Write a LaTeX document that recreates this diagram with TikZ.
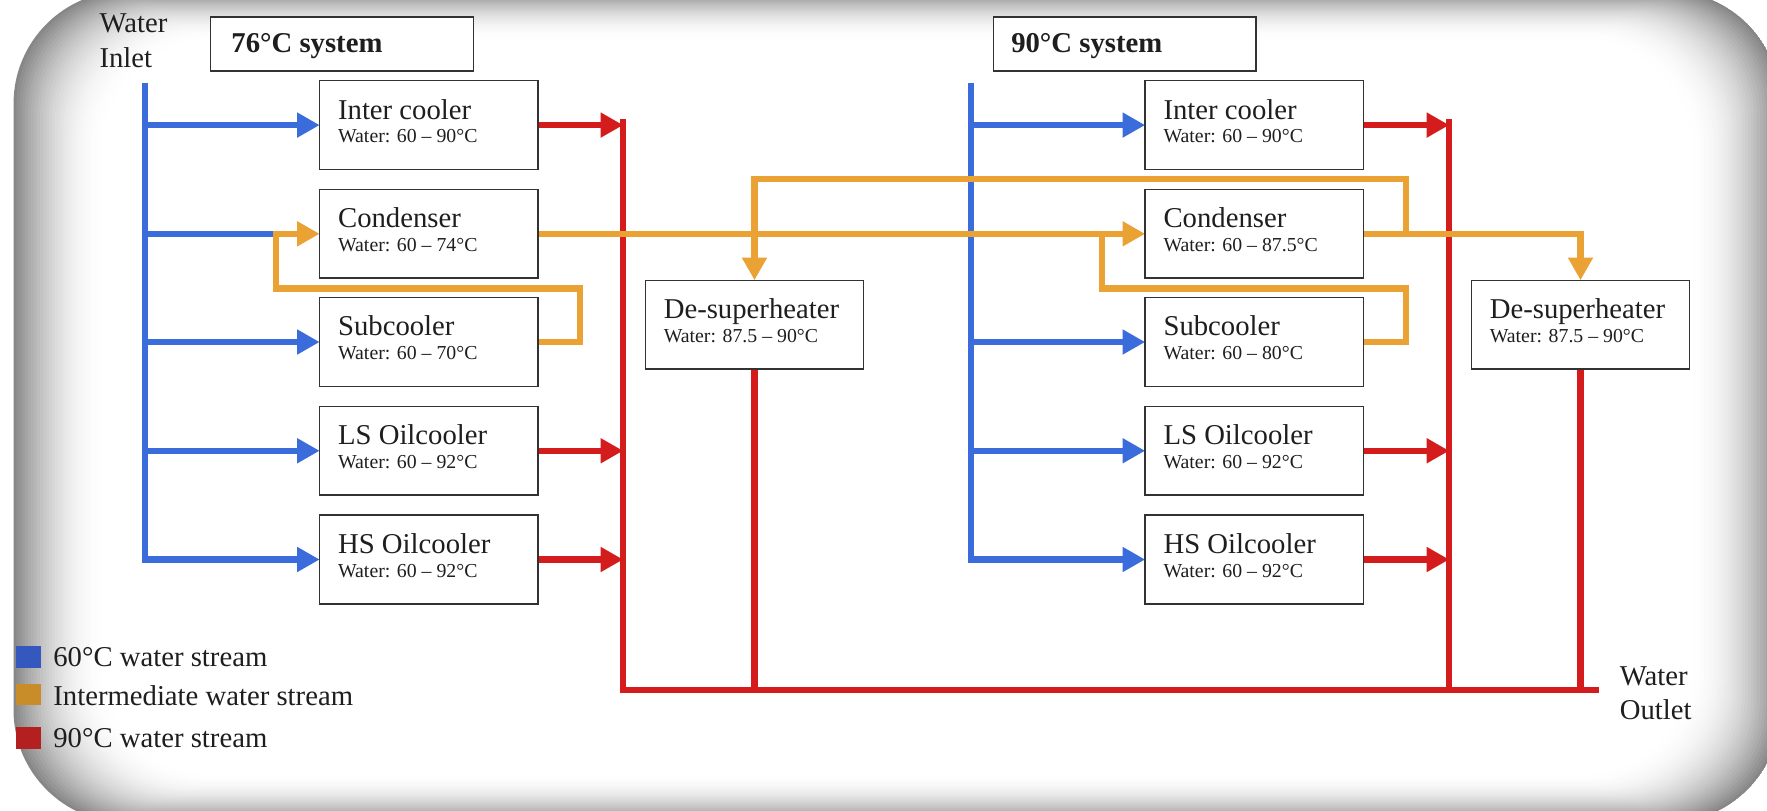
\documentclass[tikz,border=0pt]{standalone}
\usepackage{fontspec}
\setmainfont{Liberation Serif}
\usetikzlibrary{arrows.meta}
\definecolor{bl}{RGB}{59,108,220}
\definecolor{rd}{RGB}{212,28,28}
\definecolor{og}{RGB}{234,162,52}
\definecolor{lgbl}{RGB}{52,88,190}
\definecolor{lgog}{RGB}{200,140,40}
\definecolor{lgrd}{RGB}{180,32,32}
\definecolor{txt}{RGB}{30,30,30}
\definecolor{edge}{RGB}{50,50,50}
\newcommand\hxbox[5]{%
  \node[ubox] (#1) at (#2,#3) {};
  \node[ttl, anchor=base west] (#1t) at ([shift={(16,34)}]#1.north west) {#4};
  \node[sub, anchor=base west] (#1s) at ([shift={(16,55)}]#1.north west) {#5};
}
\begin{document}
\begin{tikzpicture}[x=0.02cm,y=-0.02cm,
  pipe/.style={line width=3.1pt},
  bpipe/.style={pipe,draw=bl},
  rpipe/.style={pipe,draw=rd},
  opipe/.style={pipe,draw=og},
  tip/.style={-{Triangle[length=0.4cm,width=0.42cm]}},
  ubox/.style={fill=white,minimum width=3.86cm,minimum height=1.56cm,inner sep=0pt},
  sbox/.style={draw=edge,fill=white,line width=0.7pt,minimum width=4.66cm,minimum height=0.96cm,inner sep=0pt},
  ttl/.style={font=\fontsize{14.5}{16}\selectfont,text=txt,inner sep=0pt},
  sub/.style={font=\fontsize{10}{11}\selectfont,text=txt,inner sep=0pt},
  leg/.style={font=\fontsize{14.5}{16}\selectfont,text=txt,inner sep=0pt},
]
\useasboundingbox (0,0) rectangle (1568,719);
% background frame
\fill[white] (0,0) rectangle (1568,719);
\begin{scope}
  \clip[rounded corners=2cm] (12,-8) rectangle (1580,730);
  \foreach \i in {0,...,30}{
    \pgfmathsetmacro\c{47*(1-\i/31)^2}
    \fill[black!\c!white, rounded corners=2cm] ({12+2.6*\i},{-8+1.4*\i}) rectangle ({1580-2.6*\i},{730-1.4*\i});
  }
  \fill[white, rounded corners=2cm] ({12+2.6*31},{-8+1.4*31}) rectangle ({1580-2.6*31},{730-1.4*31});
\end{scope}

% boxes (positions)
\hxbox{ic1}{380.5}{111}{Inter cooler}{Water: 60 -- 90°C}
\hxbox{cd1}{380.5}{207.5}{Condenser}{Water: 60 -- 74°C}
\hxbox{sc1}{380.5}{303.5}{Subcooler}{Water: 60 -- 70°C}
\hxbox{ls1}{380.5}{400}{LS Oilcooler}{Water: 60 -- 92°C}
\hxbox{hs1}{380.5}{496.5}{HS Oilcooler}{Water: 60 -- 92°C}
\hxbox{ds1}{669.5}{288}{De-superheater}{Water: 87.5 -- 90°C}
\hxbox{ic2}{1113}{111}{Inter cooler}{Water: 60 -- 90°C}
\hxbox{cd2}{1113}{207.5}{Condenser}{Water: 60 -- 87.5°C}
\hxbox{sc2}{1113}{303.5}{Subcooler}{Water: 60 -- 80°C}
\hxbox{ls2}{1113}{400}{LS Oilcooler}{Water: 60 -- 92°C}
\hxbox{hs2}{1113}{496.5}{HS Oilcooler}{Water: 60 -- 92°C}
\hxbox{ds2}{1402.5}{288}{De-superheater}{Water: 87.5 -- 90°C}

% coordinates
\coordinate (tin1) at (129,74);
\coordinate (tin2) at (862,74);
\coordinate (c1top) at (553,106);
\coordinate (c1bot) at (553,612);
\coordinate (c2top) at (1286,106);
\coordinate (outend) at (1419,612);
\coordinate (o1a) at (515,303.5);
\coordinate (o1b) at (515,256);
\coordinate (o1c) at (245,256);
\coordinate (j1) at (245,207.5);
\coordinate (o2a) at (1248,303.5);
\coordinate (o2b) at (1248,256);
\coordinate (o2c) at (978,256);
\coordinate (o2d) at (978,207.5);
\coordinate (o3a) at (1248,207.5);
\coordinate (o3b) at (1248,159);

% blue 60C streams
\draw[bpipe,tip] (tin1) -- (tin1 |- hs1.west) -- (hs1.west);
\draw[bpipe,tip] (tin1 |- ic1.west) -- (ic1.west);
\draw[bpipe] (tin1 |- cd1.west) -- (j1);
\draw[bpipe,tip] (tin1 |- sc1.west) -- (sc1.west);
\draw[bpipe,tip] (tin1 |- ls1.west) -- (ls1.west);
\draw[bpipe,tip] (tin2) -- (tin2 |- hs2.west) -- (hs2.west);
\draw[bpipe,tip] (tin2 |- ic2.west) -- (ic2.west);
\draw[bpipe,tip] (tin2 |- sc2.west) -- (sc2.west);
\draw[bpipe,tip] (tin2 |- ls2.west) -- (ls2.west);

% red 90C streams
\draw[rpipe] (c1top) -- (c1bot) -- (outend);
\draw[rpipe] (c2top) -- (c2top |- c1bot);
\draw[rpipe] (ds1.south) -- (ds1.south |- c1bot);
\draw[rpipe] (ds2.south) -- (ds2.south |- c1bot);
\draw[rpipe,tip] (ic1.east) -- (c1top |- ic1.east);
\draw[rpipe,tip] (ls1.east) -- (c1top |- ls1.east);
\draw[rpipe,tip] (hs1.east) -- (c1top |- hs1.east);
\draw[rpipe,tip] (ic2.east) -- (c2top |- ic2.east);
\draw[rpipe,tip] (ls2.east) -- (c2top |- ls2.east);
\draw[rpipe,tip] (hs2.east) -- (c2top |- hs2.east);

% orange intermediate streams
\draw[opipe,tip] (sc1.east) -- (o1a) -- (o1b) -- (o1c) -- (j1) -- (cd1.west);
\draw[opipe,tip] (cd1.east) -- (cd2.west);
\draw[opipe] (sc2.east) -- (o2a) -- (o2b) -- (o2c) -- (o2d);
\draw[opipe,tip] (o3a) -- (o3b) -- (ds1.north |- o3b) -- (ds1.north);
\draw[opipe,tip] (cd2.east) -- (ds2.north |- cd2.east) -- (ds2.north);

% box outlines on top of pipes
\foreach \b in {ic1,cd1,sc1,ls1,hs1,ds1,ic2,cd2,sc2,ls2,hs2,ds2}{
  \draw[draw=edge,line width=0.7pt] (\b.north west) rectangle (\b.south east);
}

% system headers
\node[sbox] (sys1) at (303.5,39) {};
\node[ttl, font=\fontsize{14.5}{16}\selectfont\bfseries, anchor=base west] (sys1t) at (205,47) {76°C system};
\node[sbox] (sys2) at (998,39) {};
\node[ttl, font=\fontsize{14.5}{16}\selectfont\bfseries, anchor=base west] (sys2t) at (897,47) {90°C system};

% inlet / outlet labels
\node[leg, anchor=west] (inw) at (88,20.5) {Water};
\node[leg, anchor=west] (inl) at (88,51.5) {Inlet};
\node[leg, anchor=west] (outw) at (1437,600) {Water};
\node[leg, anchor=west] (outl) at (1437,630) {Outlet};

% legend
\fill[lgbl] (14,573) rectangle (36,593);
\fill[lgog] (14,607) rectangle (36,626);
\fill[lgrd] (14,645) rectangle (36,665);
\node[leg, anchor=west] (lg1) at (47,583) {60°C water stream};
\node[leg, anchor=west] (lg2) at (47,617) {Intermediate water stream};
\node[leg, anchor=west] (lg3) at (47,655) {90°C water stream};
\end{tikzpicture}
\end{document}
